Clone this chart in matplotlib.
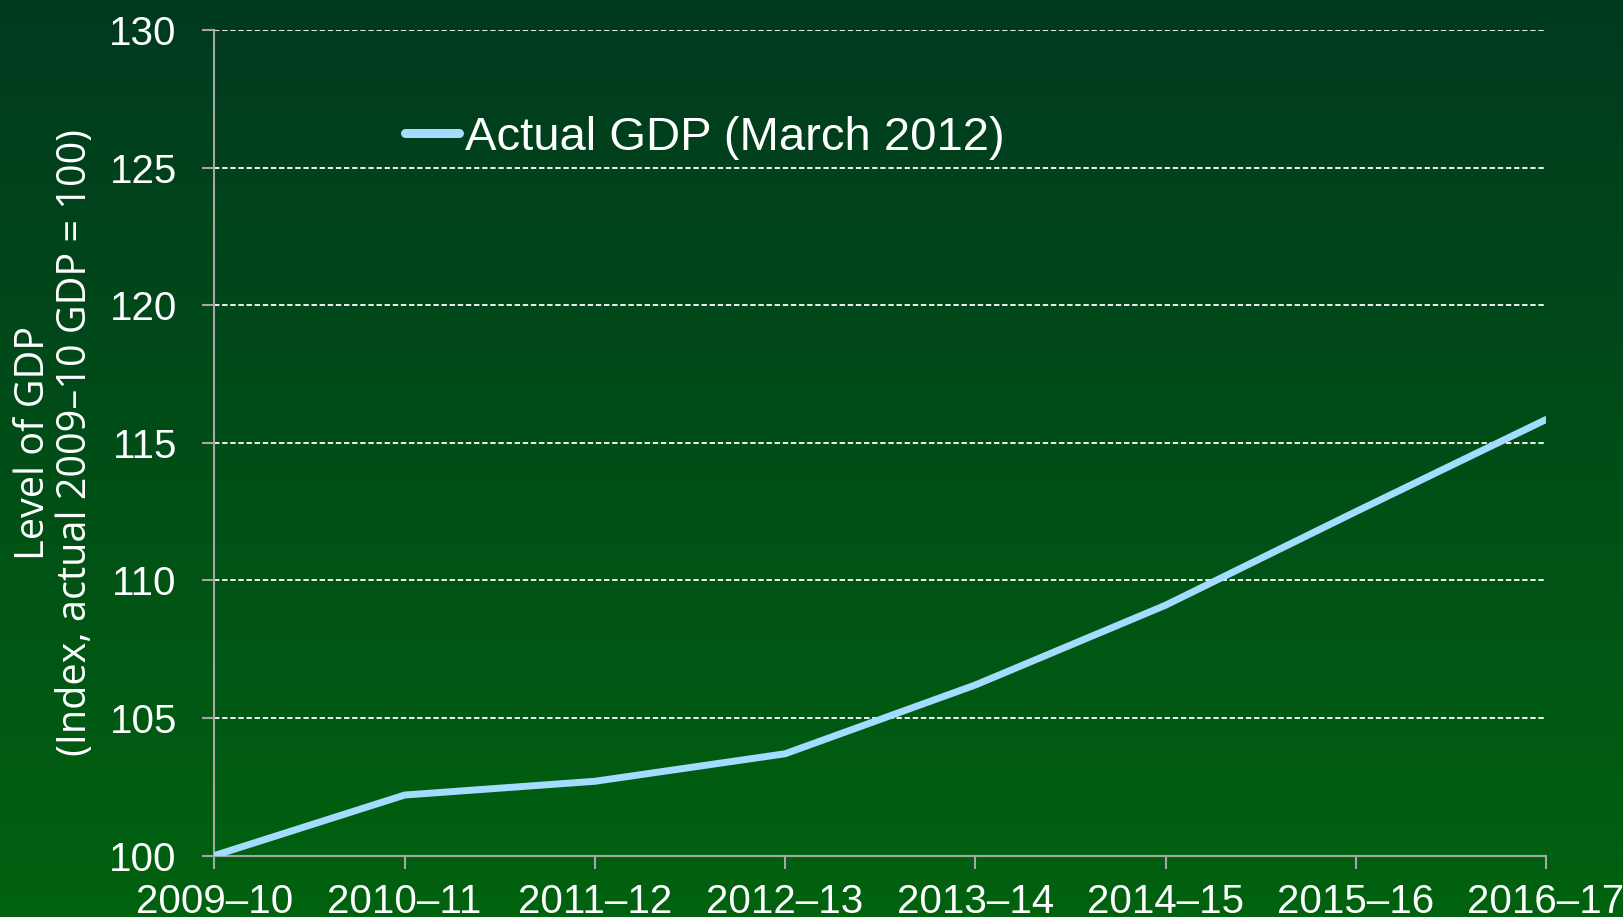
import numpy as np
import matplotlib.pyplot as plt
from matplotlib.colors import LinearSegmentedColormap

years = ["2009–10", "2010–11", "2011–12", "2012–13",
         "2013–14", "2014–15", "2015–16", "2016–17"]
gdp = [100.0, 102.2, 102.7, 103.7, 106.2, 109.1, 112.5, 115.85]

fig = plt.figure(figsize=(16.24, 9.17), dpi=100)

# background gradient (dark green top -> brighter green bottom)
bg = fig.add_axes([0, 0, 1, 1], zorder=-10)
grad = np.linspace(0, 1, 256).reshape(-1, 1)
cmap = LinearSegmentedColormap.from_list("bg", ["#013a1f", "#00620f"])
bg.imshow(grad, aspect="auto", cmap=cmap, extent=[0, 1, 0, 1])
bg.axis("off")

ax = fig.add_axes([0.132, 0.067, 0.820, 0.900])
ax.patch.set_alpha(0)

x = np.arange(len(years))
ax.plot(x, gdp, color="#a3dcff", lw=5.0, solid_capstyle="round",
        label="Actual GDP (March 2012)", zorder=5)

ax.set_xlim(0, len(years) - 1)
ax.set_ylim(100, 130)
ax.set_yticks(np.arange(100, 131, 5))
ax.set_xticks(x)
ax.set_xticklabels(years)

for v in range(105, 131, 5):
    ax.axhline(v, color="white", lw=1.3, dashes=(3, 1.5), zorder=1)

for s in ["top", "right"]:
    ax.spines[s].set_visible(False)
for s in ["left", "bottom"]:
    ax.spines[s].set_color("#a6a6a6")
    ax.spines[s].set_linewidth(1.5)

ax.tick_params(axis="both", colors="#a6a6a6", width=1.5, length=9, direction="out")
ax.tick_params(axis="y", labelcolor="white", labelsize=29, pad=18)
ax.tick_params(axis="x", labelcolor="white", labelsize=29, pad=11)
for lab in ax.get_xticklabels() + ax.get_yticklabels():
    lab.set_family("Liberation Sans")

fig.text(55 / 1624, 1 - 443 / 917,
         "Level of GDP\n(Index, actual 2009–10 GDP = 100)",
         rotation=90, ha="center", va="center", multialignment="center",
         color="white", fontsize=28.5, family="Open Sans", linespacing=1.05)

leg = ax.legend(loc="center left", bbox_to_anchor=(405 / 1624, 1 - 138 / 917),
                bbox_transform=fig.transFigure, frameon=False,
                handlelength=1.15, handletextpad=0.12, borderpad=0,
                borderaxespad=0, prop={"family": "Liberation Sans", "size": 34})
for t in leg.get_texts():
    t.set_color("white")
for h in leg.get_lines():
    h.set_linewidth(6.5)

fig.savefig("out.png", dpi=100)
